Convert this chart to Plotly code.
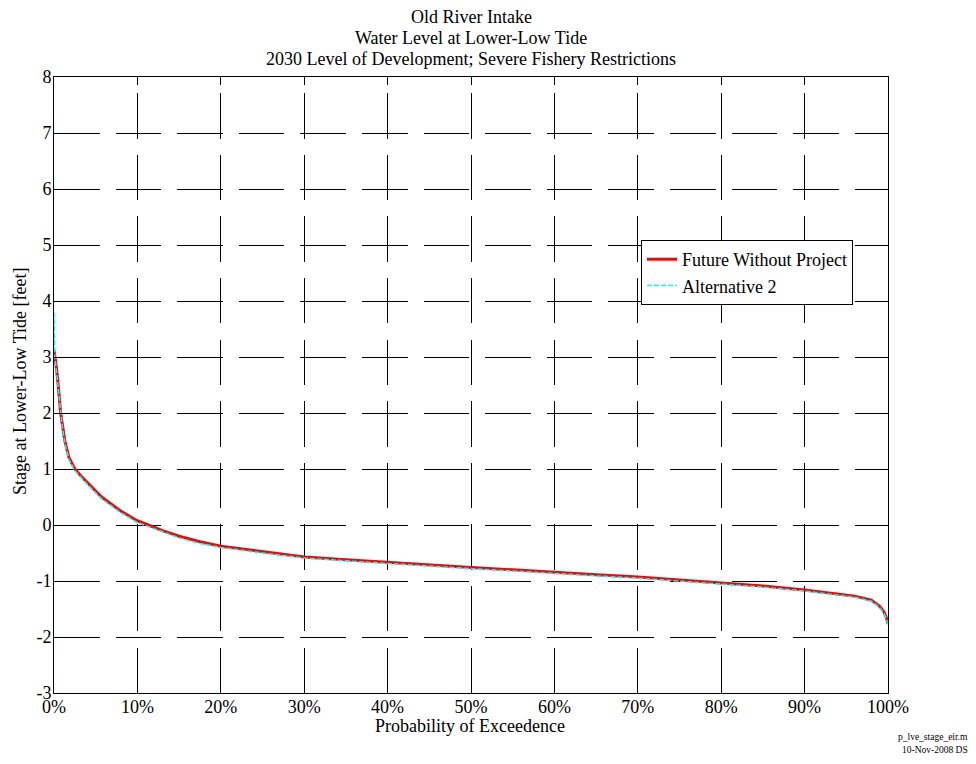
import plotly.graph_objects as go

# ---------------- data ----------------
prob_fwp = [0, 0.2, 0.3, 0.5, 0.6, 0.8, 1.0, 1.3, 1.8, 2.5, 3.2, 4.1, 5.7, 7.9, 9.9,
            11.3, 13, 15, 17.5, 20, 25, 30, 35, 40, 45, 50, 55, 60, 65, 70, 75, 80,
            85, 90, 93, 96, 98, 99, 99.5, 99.8, 100]
stage_fwp = [3.12, 2.95, 2.80, 2.50, 2.30, 2.00, 1.80, 1.50, 1.20, 1.00, 0.88, 0.74, 0.50,
             0.26, 0.08, 0.00, -0.10, -0.20, -0.30, -0.38, -0.48, -0.57, -0.62, -0.67,
             -0.71, -0.76, -0.80, -0.85, -0.89, -0.93, -0.98, -1.04, -1.09, -1.16, -1.21,
             -1.27, -1.34, -1.45, -1.55, -1.65, -1.76]

prob_alt2 = [0, 0.1, 0.2, 0.3, 0.5, 0.6, 0.8, 1.0, 1.3, 1.8, 2.5, 3.2, 4.1, 5.7, 7.9, 9.9,
             11.3, 13, 15, 17.5, 20, 25, 30, 35, 40, 45, 50, 55, 60, 65, 70, 75, 80,
             85, 90, 93, 96, 98, 99, 99.5, 99.8, 100]
stage_alt2 = [3.80, 2.95, 2.88, 2.74, 2.45, 2.26, 1.96, 1.76, 1.46, 1.17, 0.97, 0.85, 0.71,
              0.47, 0.23, 0.05, -0.03, -0.13, -0.23, -0.33, -0.40, -0.50, -0.59, -0.64,
              -0.69, -0.73, -0.78, -0.82, -0.87, -0.91, -0.95, -1.00, -1.06, -1.11, -1.18,
              -1.23, -1.29, -1.36, -1.47, -1.57, -1.67, -1.78]

x_ticks = [0, 10, 20, 30, 40, 50, 60, 70, 80, 90, 100]
x_ticklabels = ["0%", "10%", "20%", "30%", "40%", "50%", "60%", "70%", "80%", "90%", "100%"]
y_ticks = [-3, -2, -1, 0, 1, 2, 3, 4, 5, 6, 7, 8]
y_ticklabels = ["-3", "-2", "-1", "0", "1", "2", "3", "4", "5", "6", "7", "8"]

title_lines = ["Old River Intake",
               "Water Level at Lower-Low Tide",
               "2030 Level of Development; Severe Fishery Restrictions"]
footer_lines = ["p_lve_stage_eir.m", "10-Nov-2008 DS"]

# ---------------- figure ----------------
FONT = "Liberation Serif, Times New Roman, serif"
OFF = 8                      # page body margin
W, H = 960, 748
L, R, T, B = 46, 80, 69, 63
PW, PH = W - L - R, H - T - B

def px_x(p):                 # page pixel -> paper x
    return (p - OFF - L) / PW

def px_y(p):                 # page pixel -> paper y
    return (H - B - (p - OFF)) / PH

fig = go.Figure()
fig.add_trace(go.Scatter(x=prob_fwp, y=stage_fwp, mode="lines",
                         name="Future Without Project",
                         line=dict(color="#ff0000", width=3)))
fig.add_trace(go.Scatter(x=prob_alt2, y=stage_alt2, mode="lines",
                         name="Alternative 2",
                         line=dict(color="#00ffff", width=1.5, dash="5px,2px")))

axis_common = dict(
    showline=True, linecolor="black", linewidth=1, mirror="ticks",
    ticks="inside", ticklen=8, tickcolor="black", tickwidth=1,
    showgrid=True, gridcolor="black", gridwidth=1,
    zeroline=False,
    tickfont=dict(family=FONT, size=18, color="black"),
)

fig.update_xaxes(range=[0, 100], tickmode="array", tickvals=x_ticks,
                 ticktext=x_ticklabels, griddash="0px,16.1px,45.5px,0px",
                 ticklabelstandoff=-3, **axis_common)
fig.update_yaxes(range=[-3, 8], tickmode="array", tickvals=y_ticks,
                 ticktext=y_ticklabels, griddash="45.5px,16.1px",
                 ticklabelstandoff=-2, **axis_common)

annotations = []
for txt, py in zip(title_lines, [17, 38, 59]):
    annotations.append(dict(text=txt, x=0.5, y=px_y(py), xref="paper", yref="paper",
                            xanchor="center", yanchor="middle", showarrow=False,
                            font=dict(family=FONT, size=18, color="black")))
annotations.append(dict(text="Probability of Exceedence", x=px_x(470), y=px_y(726),
                        xref="paper", yref="paper", xanchor="center", yanchor="middle",
                        showarrow=False, font=dict(family=FONT, size=18, color="black")))
annotations.append(dict(text="Stage at Lower-Low Tide [feet]", x=px_x(20), y=px_y(381),
                        xref="paper", yref="paper", xanchor="center", yanchor="middle",
                        textangle=-90, showarrow=False,
                        font=dict(family=FONT, size=18, color="black")))
for txt, py in zip(footer_lines, [737, 750]):
    annotations.append(dict(text=txt, x=px_x(970), y=px_y(py), xref="paper", yref="paper",
                            xanchor="right", yanchor="middle", showarrow=False,
                            font=dict(family=FONT, size=9.5, color="black")))

fig.update_layout(
    width=W, height=H,
    margin=dict(l=L, r=R, t=T, b=B, pad=0),
    paper_bgcolor="white", plot_bgcolor="white",
    showlegend=True,
    legend=dict(x=px_x(641), y=px_y(240), xanchor="left", yanchor="top",
                bgcolor="white", bordercolor="black", borderwidth=1,
                font=dict(family=FONT, size=18, color="black"),
                itemwidth=30, tracegroupgap=0),
    annotations=annotations,
)

fig.write_html("out.html")
